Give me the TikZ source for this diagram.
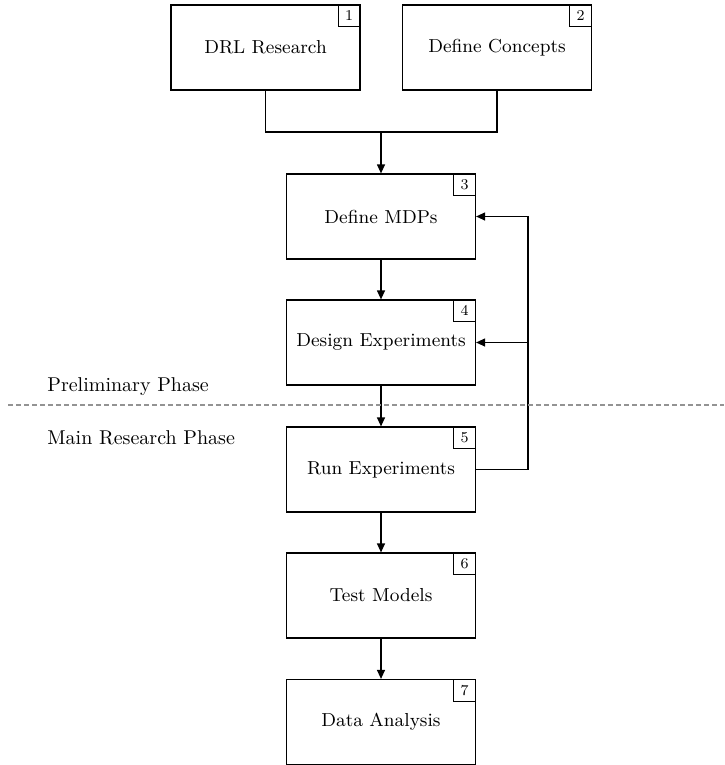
\documentclass[tikz,border=0pt]{standalone}
\usepackage{tikz}
\usetikzlibrary{arrows.meta}

\tikzset{
	stepbox/.style={shape=rectangle,draw=black,line width=0.6pt,minimum width=94.5pt,minimum height=42.5pt,inner sep=0pt,font=\fontsize{9.4}{11}\selectfont},
	tagbox/.style={shape=rectangle,draw=black,line width=0.5pt,minimum size=11pt,inner sep=0pt,anchor=north east,font=\fontsize{7.5}{9}\selectfont},
	flow/.style={line width=0.6pt,-{Triangle[length=4.5pt,width=4pt]}},
	phase/.style={anchor=base west,inner sep=0pt,font=\fontsize{10}{12}\selectfont}
}

\begin{document}
\begin{tikzpicture}[x=0.5pt,y=-0.5pt]
	\useasboundingbox (0,0) rectangle (724,765);

	\node[stepbox] (b1) at (265.5, 47.5)     {DRL Research};
	\node[stepbox] (b2) at (497, 47.5)     {Define Concepts};
	\node[stepbox] (b3) at (381, 216.5)     {Define MDPs};
	\node[stepbox] (b4) at (381, 342.5)     {Design Experiments};
	\node[stepbox] (b5) at (381, 469.5)     {Run Experiments};
	\node[stepbox] (b6) at (381, 595.5)     {Test Models};
	\node[stepbox] (b7) at (381, 722)     {Data Analysis};

	\node[tagbox] (t1) at (b1.north east) {1};
	\node[tagbox] (t2) at (b2.north east) {2};
	\node[tagbox] (t3) at (b3.north east) {3};
	\node[tagbox] (t4) at (b4.north east) {4};
	\node[tagbox] (t5) at (b5.north east) {5};
	\node[tagbox] (t6) at (b6.north east) {6};
	\node[tagbox] (t7) at (b7.north east) {7};

	\coordinate (join) at (381, 132);
	\coordinate (back) at (528, 469.5);

	\draw[line width=0.6pt] (b1.south) |- (join);
	\draw[line width=0.6pt] (b2.south) |- (join);
	\draw[flow] (join) -- (b3.north);
	\draw[flow] (b3) -- (b4);
	\draw[flow] (b4) -- (b5);
	\draw[flow] (b5) -- (b6);
	\draw[flow] (b6) -- (b7);

	\draw[line width=0.6pt] (b5.east) -- (back);
	\draw[flow] (back) |- (b3.east);
	\draw[flow] (back |- b4.east) -- (b4.east);

	% phase boundary
	\draw[gray!85,line width=1pt,dash pattern=on 2.5pt off 1.5pt] (8, 405) -- (724, 405);
	\node[phase] (pre) at (47, 391) {Preliminary Phase};
	\node[phase] (main) at (47, 444) {Main Research Phase};

\end{tikzpicture}
\end{document}
